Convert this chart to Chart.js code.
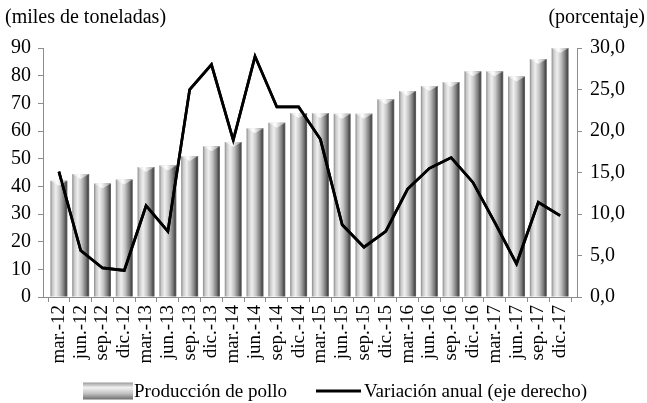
<!DOCTYPE html>
<html>
<head>
<meta charset="utf-8">
<script src="https://cdn.jsdelivr.net/npm/chart.js@4.4.1/dist/chart.umd.min.js"></script>
<style>
  html, body { margin: 0; padding: 0; background: #fff; }
  #wrap { width: 647px; height: 403px; }
</style>
</head>
<body>
<div id="wrap"><canvas id="chart" width="647" height="403"></canvas></div>
<script>
// data
const categories = ['mar.-12', 'jun.-12', 'sep.-12', 'dic.-12', 'mar.-13', 'jun.-13', 'sep.-13', 'dic.-13',
    'mar.-14', 'jun.-14', 'sep.-14', 'dic.-14', 'mar.-15', 'jun.-15', 'sep.-15', 'dic.-15',
    'mar.-16', 'jun.-16', 'sep.-16', 'dic.-16', 'mar.-17', 'jun.-17', 'sep.-17', 'dic.-17'];
const produccion = [42, 44.5, 41, 42.5, 47, 47.5, 51, 54.5, 56, 61, 63, 66.5,
    66.5, 66.2, 66.2, 71.5, 74.5, 76.3, 77.7, 81.6, 81.6, 79.7, 86, 90];
const variacion = [15.1, 5.6, 3.5, 3.2, 11.0, 7.9, 25.0, 28.0, 18.9, 29.0, 22.9, 22.9,
    19.0, 8.7, 6.0, 7.9, 13.0, 15.5, 16.8, 13.8, 9.0, 4.0, 11.4, 9.8];
const leftTicks = [0, 10, 20, 30, 40, 50, 60, 70, 80, 90];
const rightTicks = [0, 5, 10, 15, 20, 25, 30];

const labelBars = 'Producción de pollo';
const labelLine = 'Variación anual (eje derecho)';
const titleLeft = '(miles de toneladas)';
const titleRight = '(porcentaje)';

const FONT = "'Liberation Serif', 'Times New Roman', serif";
const BAR_PCT = 0.78;
const AXIS_GREY = '#8c8c8c';

Chart.defaults.font.family = FONT;
Chart.defaults.font.size = 19;
Chart.defaults.color = '#000';

// cylinder-like shading across one bar
function barFill(ctx) {
    const chart = ctx.chart;
    const xs = chart.scales.x;
    if (ctx.type !== 'data' || !xs) return '#bdbdbd';
    const cx = xs.getPixelForValue(ctx.dataIndex);
    const w = (xs.getPixelForValue(1) - xs.getPixelForValue(0)) * BAR_PCT;
    if (!isFinite(cx) || !isFinite(w) || w <= 0) return '#bdbdbd';
    const g = chart.ctx.createLinearGradient(cx - w / 2, 0, cx + w / 2, 0);
    g.addColorStop(0, '#8a8a8a');
    g.addColorStop(0.12, '#c8c8c8');
    g.addColorStop(0.32, '#efefef');
    g.addColorStop(0.55, '#c4c4c4');
    g.addColorStop(0.8, '#7a7a7a');
    g.addColorStop(0.92, '#4a4a4a');
    g.addColorStop(1, '#6a6a6a');
    return g;
}

// light bevel on top of each bar + axis titles + legend
const decor = {
    id: 'decor',
    afterDatasetsDraw(chart) {
        const c = chart.ctx;
        const area = chart.chartArea;
        const meta = chart.getDatasetMeta(1);
        c.save();
        c.beginPath();
        c.rect(area.left, area.top - 6, area.right - area.left, area.bottom - area.top + 6);
        c.clip();
        meta.data.forEach(bar => {
            const half = bar.width / 2;
            if (!isFinite(bar.x) || !isFinite(half)) return;
            const g = c.createLinearGradient(bar.x - half, 0, bar.x + half, 0);
            g.addColorStop(0, '#d8d8d8');
            g.addColorStop(0.4, '#ffffff');
            g.addColorStop(1, '#9a9a9a');
            c.fillStyle = g;
            c.beginPath();
            c.moveTo(bar.x - half, bar.y);
            c.lineTo(bar.x + half, bar.y);
            c.lineTo(bar.x, bar.y + 5);
            c.closePath();
            c.fill();
        });
        c.restore();
        // line back on top of the bevels
        c.save();
        c.beginPath();
        c.rect(area.left, area.top - 4, area.right - area.left, area.bottom - area.top + 8);
        c.clip();
        chart.getDatasetMeta(0).dataset.draw(c, area);
        c.restore();
    },
    afterDraw(chart) {
        const c = chart.ctx;
        c.save();
        c.font = '20px ' + FONT;
        c.fillStyle = '#000';
        c.textBaseline = 'middle';
        c.textAlign = 'left';
        c.fillText(titleLeft, 5, 18);
        c.textAlign = 'right';
        c.fillText(titleRight, 645, 18);

        // legend
        c.font = '19px ' + FONT;
        const ly = 391;
        const sx = 83, sw = 50, sh = 17;
        const g = c.createLinearGradient(0, ly - sh / 2, 0, ly + sh / 2);
        g.addColorStop(0, '#9a9a9a');
        g.addColorStop(0.3, '#f2f2f2');
        g.addColorStop(0.65, '#c2c2c2');
        g.addColorStop(1, '#6e6e6e');
        c.fillStyle = g;
        c.fillRect(sx, ly - sh / 2, sw, sh);
        c.fillStyle = '#000';
        c.textAlign = 'left';
        c.fillText(labelBars, sx + sw + 1, ly + 1);

        c.strokeStyle = '#000';
        c.lineWidth = 3;
        c.beginPath();
        c.moveTo(316, ly);
        c.lineTo(361, ly);
        c.stroke();
        c.fillText(labelLine, 364, ly + 1);
        c.restore();
    }
};

const ctx = document.getElementById('chart').getContext('2d');
new Chart(ctx, {
    type: 'bar',
    data: {
        datasets: [{
            type: 'line',
            label: labelLine,
            data: categories.map((c, i) => ({ x: i, y: variacion[i] })),
            yAxisID: 'y1',
            borderColor: '#000',
            borderWidth: 2.7,
            pointRadius: 0,
            tension: 0,
            order: 1
        }, {
            type: 'bar',
            label: labelBars,
            data: categories.map((c, i) => ({ x: i, y: produccion[i] })),
            yAxisID: 'y',
            backgroundColor: barFill,
            borderWidth: 0,
            barPercentage: BAR_PCT,
            categoryPercentage: 1,
            order: 2
        }]
    },
    options: {
        responsive: false,
        animation: false,
        layout: { padding: { top: 48, bottom: 36, left: 0, right: 0 } },
        plugins: {
            legend: { display: false },
            tooltip: { enabled: false }
        },
        scales: {
            x: {
                type: 'linear',
                min: -0.22,
                max: 23.264,
                afterBuildTicks: scale => { scale.ticks = categories.map((c, i) => ({ value: i })); },
                afterFit: scale => { scale.height = 70; },
                ticks: {
                    autoSkip: false,
                    minRotation: 90,
                    maxRotation: 90,
                    padding: 3,
                    font: { size: 19 },
                    callback: v => categories[v]
                },
                grid: { drawOnChartArea: false, drawTicks: true, tickLength: 5, color: AXIS_GREY },
                border: { display: true, color: AXIS_GREY }
            },
            y: {
                position: 'left',
                min: 0,
                max: 90,
                afterBuildTicks: scale => { scale.ticks = leftTicks.map(v => ({ value: v })); },
                afterFit: scale => { scale.width = 43; },
                ticks: { padding: 7, font: { size: 20 } },
                grid: { drawOnChartArea: false, drawTicks: true, tickLength: 5, color: AXIS_GREY },
                border: { display: true, color: AXIS_GREY }
            },
            y1: {
                position: 'right',
                min: 0,
                max: 30,
                afterBuildTicks: scale => { scale.ticks = rightTicks.map(v => ({ value: v })); },
                afterFit: scale => { scale.width = 70; },
                ticks: {
                    padding: 8,
                    font: { size: 20 },
                    callback: v => v.toFixed(1).replace('.', ',')
                },
                grid: { drawOnChartArea: false, drawTicks: true, tickLength: 5, color: AXIS_GREY },
                border: { display: true, color: AXIS_GREY }
            }
        }
    },
    plugins: [decor]
});
</script>
</body>
</html>
